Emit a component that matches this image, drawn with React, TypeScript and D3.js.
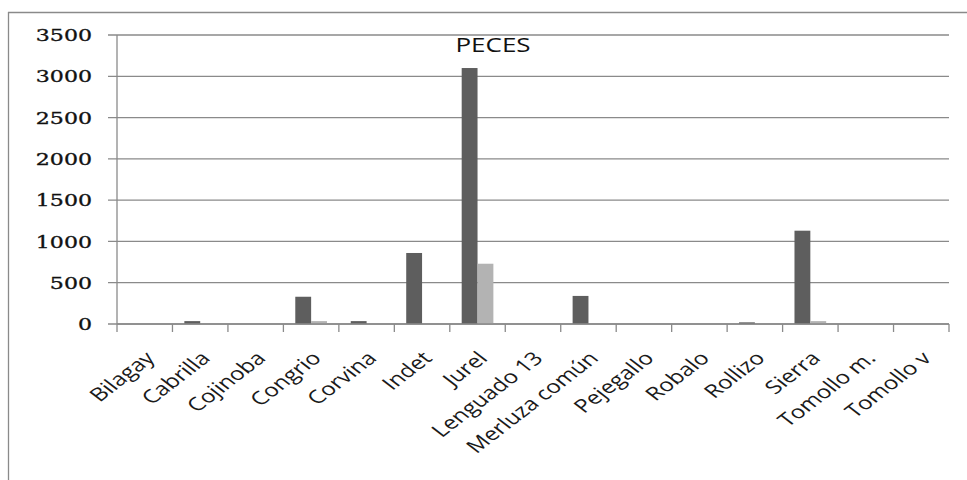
import React from "react";
import * as d3 from "d3";

const categories = [
  "Bilagay", "Cabrilla", "Cojinoba", "Congrio", "Corvina", "Indet", "Jurel",
  "Lenguado 13", "Merluza común", "Pejegallo", "Robalo", "Rollizo", "Sierra",
  "Tomollo m.", "Tomollo v",
];
const seriesDark = [0, 35, 0, 330, 35, 860, 3100, 0, 340, 0, 0, 20, 1130, 0, 0];
const seriesLight = [0, 0, 0, 35, 0, 0, 730, 0, 0, 0, 0, 0, 35, 0, 0];
const yTicks = [0, 500, 1000, 1500, 2000, 2500, 3000, 3500];
const seriesKeys = ["dark", "light"];
const seriesColors = ["#5e5e5e", "#b3b3b3"];
const title = "PECES";

export default function App() {
  const W = 967, H = 480;
  const x0 = 117, x1 = 949, yTop = 35, yBot = 324;
  const sx = 1.3;
  const x = d3.scaleBand<string>().domain(categories).range([x0, x1]).paddingInner(0).paddingOuter(0);
  const xs = d3.scaleBand<string>().domain(seriesKeys).range([0, x.bandwidth()]).paddingInner(0).paddingOuter(0.75);
  const y = d3.scaleLinear().domain([0, 3500]).range([yBot, yTop]);
  const grid = "#8a8a8a";
  const data = [seriesDark, seriesLight];

  return (
    <div style={{ position: "absolute", left: 0, top: 0 }}>
      <svg width={W} height={H} style={{ display: "block", background: "#fff" }}>
        <rect x={0} y={0} width={W} height={H} fill="#fff" />
        {/* outer border */}
        <line x1={8.5} y1={12} x2={8.5} y2={H} stroke={grid} strokeWidth={1.3} />
        <line x1={8} y1={12.5} x2={W} y2={12.5} stroke={grid} strokeWidth={1.3} />
        {/* gridlines */}
        {yTicks.map((t) => (
          <g key={t}>
            <line x1={x0 - 9} x2={x1} y1={y(t)} y2={y(t)} stroke={grid} strokeWidth={1.3} />
            <text
              transform={`translate(92,${y(t)}) scale(${sx},1)`}
              textAnchor="end"
              dy="0.36em"
              fontFamily="DejaVu Serif"
              fontSize={17}
              fill="#111"
              stroke="#111"
              strokeWidth={0.35}
            >
              {t}
            </text>
          </g>
        ))}
        {/* bars */}
        {data.map((s, si) =>
          s.map((v, i) => (
            <rect
              key={`${si}-${i}`}
              x={(x(categories[i]) as number) + (xs(seriesKeys[si]) as number)}
              y={y(v)}
              width={xs.bandwidth()}
              height={yBot - y(v)}
              fill={seriesColors[si]}
            />
          ))
        )}
        {/* y axis */}
        <line x1={x0} x2={x0} y1={yTop} y2={yBot + 8} stroke={grid} strokeWidth={1.3} />
        {/* x axis */}
        <line x1={x0} x2={x1} y1={yBot} y2={yBot} stroke={grid} strokeWidth={1.3} />
        {categories.map((c) => (
          <line
            key={c}
            x1={(x(c) as number) + x.bandwidth()}
            x2={(x(c) as number) + x.bandwidth()}
            y1={yBot}
            y2={yBot + 8}
            stroke={grid}
            strokeWidth={1.3}
          />
        ))}
        {/* category labels */}
        {categories.map((c) => {
          const cx = (x(c) as number) + x.bandwidth() / 2;
          return (
            <text
              key={c}
              transform={`translate(${cx - 1},350) scale(${sx},1) rotate(-45)`}
              textAnchor="end"
              dy="0.72em"
              fontFamily="Open Sans"
              fontSize={18.5}
              fill="#1a1a1a"
            >
              {c}
            </text>
          );
        })}
        {/* title */}
        <text
          transform={`translate(493,52) scale(${sx},1)`}
          textAnchor="middle"
          fontFamily="Open Sans"
          fontSize={20}
          fill="#111"
        >
          {title}
        </text>
      </svg>
    </div>
  );
}
